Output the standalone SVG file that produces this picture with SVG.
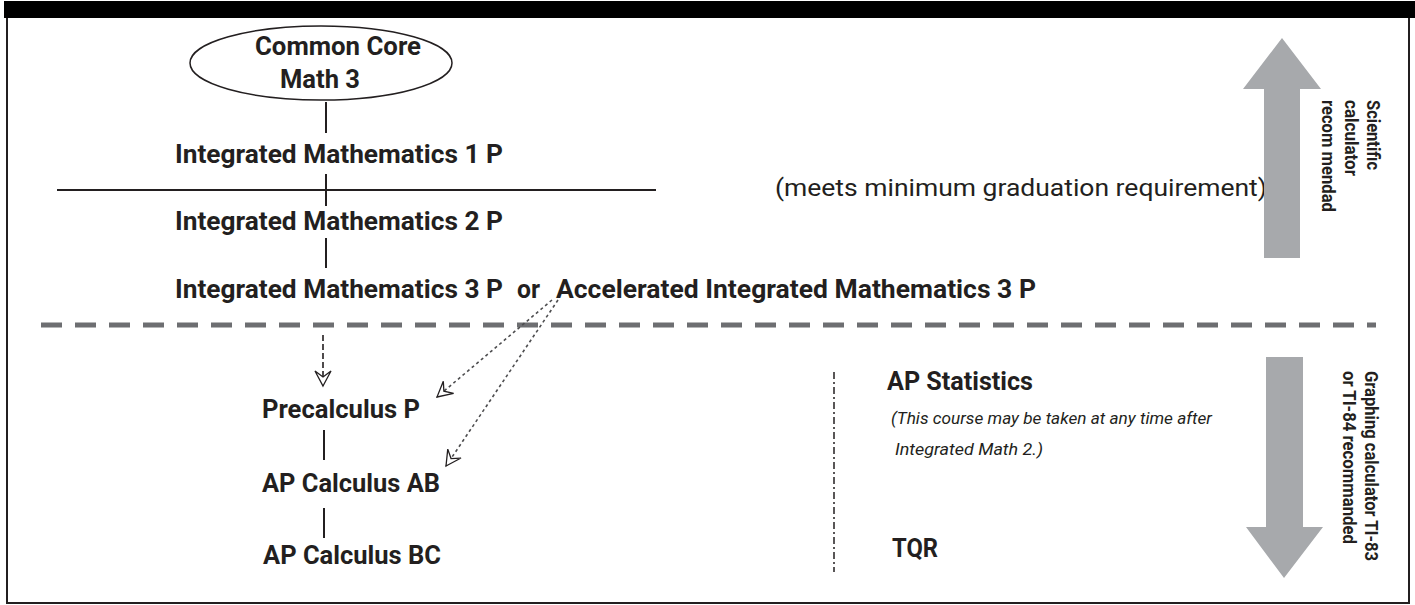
<svg xmlns="http://www.w3.org/2000/svg" width="1415" height="605" viewBox="0 0 1415 605">
  <style>
    .lbl { font-family: Roboto, "Liberation Sans", sans-serif; font-weight: 700; font-size: 25px; fill: #231f20; }
    .reg { font-family: Roboto, "Liberation Sans", sans-serif; font-weight: 400; font-size: 23px; fill: #231f20; }
    .ital { font-family: Roboto, "Liberation Sans", sans-serif; font-style: italic; font-weight: 400; font-size: 16.5px; fill: #231f20; }
    .rot { font-family: Roboto, "Liberation Sans", sans-serif; font-weight: 700; font-size: 18px; fill: #231f20; }
    .solid { stroke: #231f20; stroke-width: 2; fill: none; }
    .dotted { stroke: #4d4d4f; stroke-width: 1.6; stroke-dasharray: 3 3; fill: none; }
    .bigarrow { fill: #a7a9ac; }
  </style>
  <defs>
    <marker id="barb" markerUnits="userSpaceOnUse" markerWidth="20" markerHeight="20" refX="0" refY="0" viewBox="-16 -10 20 20" orient="auto">
      <path d="M0,0 L-15,-8 L-9,0 L-15,8 Z" fill="#ffffff" stroke="#231f20" stroke-width="1.3" stroke-linejoin="miter"/>
    </marker>
  </defs>

  <rect x="0" y="0" width="1415" height="605" fill="#ffffff"/>

  <g id="frame">
    <rect x="7" y="17" width="1402" height="586" fill="none" stroke="#231f20" stroke-width="2"/>
    <rect x="4" y="1" width="1411" height="17" fill="#000000"/>
  </g>

  <g id="connectors">
    <line class="solid" x1="326" y1="102" x2="326" y2="133"/>
    <line class="solid" x1="326" y1="174" x2="326" y2="206"/>
    <line class="solid" x1="57" y1="190" x2="656" y2="190"/>
    <line class="solid" x1="326" y1="238" x2="326" y2="268"/>
    <line x1="41" y1="325" x2="1376" y2="325" stroke="#6d6e71" stroke-width="5" stroke-dasharray="21 13"/>
    <line x1="323" y1="335" x2="323" y2="386" stroke="#231f20" stroke-width="1.6" stroke-dasharray="6 3" marker-end="url(#barb)"/>
    <line class="dotted" x1="552" y1="300" x2="437" y2="397" marker-end="url(#barb)"/>
    <line class="dotted" x1="558" y1="300" x2="446" y2="466" marker-end="url(#barb)"/>
    <line class="solid" x1="324" y1="430" x2="324" y2="460"/>
    <line class="solid" x1="324" y1="508" x2="324" y2="538"/>
    <line x1="834" y1="372" x2="834" y2="572" stroke="#231f20" stroke-width="1.5" stroke-dasharray="7 3 2 3"/>
  </g>

  <g id="common-core">
    <ellipse cx="321" cy="63" rx="131" ry="37" fill="#ffffff" stroke="#231f20" stroke-width="1.5"/>
    <text class="lbl" font-size="22" x="255" y="55" textLength="166" lengthAdjust="spacingAndGlyphs">Common Core</text>
    <text class="lbl" font-size="22" x="280" y="88" textLength="80" lengthAdjust="spacingAndGlyphs">Math 3</text>
  </g>

  <g id="im1">
    <text class="lbl" x="175" y="163" textLength="328" lengthAdjust="spacingAndGlyphs">Integrated Mathematics 1 P</text>
  </g>
  <g id="im2">
    <text class="lbl" x="175" y="230" textLength="328" lengthAdjust="spacingAndGlyphs">Integrated Mathematics 2 P</text>
  </g>
  <g id="im3">
    <text class="lbl" y="298"><tspan x="175" textLength="328" lengthAdjust="spacingAndGlyphs">Integrated Mathematics 3 P</tspan><tspan x="517" textLength="23" lengthAdjust="spacingAndGlyphs">or</tspan><tspan x="556" textLength="480" lengthAdjust="spacingAndGlyphs">Accelerated Integrated Mathematics 3 P</tspan></text>
  </g>
  <g id="grad-note">
    <text class="reg" x="775" y="196" textLength="492" lengthAdjust="spacingAndGlyphs">(meets minimum graduation requirement)</text>
  </g>

  <g id="precalc">
    <text class="lbl" x="262" y="418" textLength="158" lengthAdjust="spacingAndGlyphs">Precalculus P</text>
  </g>
  <g id="calc-ab">
    <text class="lbl" x="262" y="492" textLength="178" lengthAdjust="spacingAndGlyphs">AP Calculus AB</text>
  </g>
  <g id="calc-bc">
    <text class="lbl" x="263" y="564" textLength="178" lengthAdjust="spacingAndGlyphs">AP Calculus BC</text>
  </g>

  <g id="ap-stats">
    <text class="lbl" x="887" y="390" textLength="146" lengthAdjust="spacingAndGlyphs">AP Statistics</text>
    <text class="ital" x="891" y="424" textLength="321" lengthAdjust="spacingAndGlyphs">(This course may be taken at any time after</text>
    <text class="ital" x="895" y="455" textLength="148" lengthAdjust="spacingAndGlyphs">Integrated Math 2.)</text>
  </g>
  <g id="tqr">
    <text class="lbl" x="892" y="557" textLength="46" lengthAdjust="spacingAndGlyphs">TQR</text>
  </g>

  <g id="up-arrow">
    <polygon class="bigarrow" points="1282,38 1321,89 1300,89 1300,258 1264,258 1264,89 1243,89"/>
    <text class="rot" transform="translate(1367,100) rotate(90)" textLength="70" lengthAdjust="spacingAndGlyphs">Scientific</text>
    <text class="rot" transform="translate(1345,100) rotate(90)" textLength="76" lengthAdjust="spacingAndGlyphs">calculator</text>
    <text class="rot" transform="translate(1322,100) rotate(90)" textLength="112" lengthAdjust="spacingAndGlyphs">recom mendad</text>
  </g>

  <g id="down-arrow">
    <polygon class="bigarrow" points="1266,357 1303,357 1303,527 1323,527 1284,578 1246,527 1266,527"/>
    <text class="rot" transform="translate(1365,371) rotate(90)" textLength="190" lengthAdjust="spacingAndGlyphs">Graphing calculator TI-83</text>
    <text class="rot" transform="translate(1343,371) rotate(90)" textLength="173" lengthAdjust="spacingAndGlyphs">or TI-84 recommanded</text>
  </g>
</svg>
